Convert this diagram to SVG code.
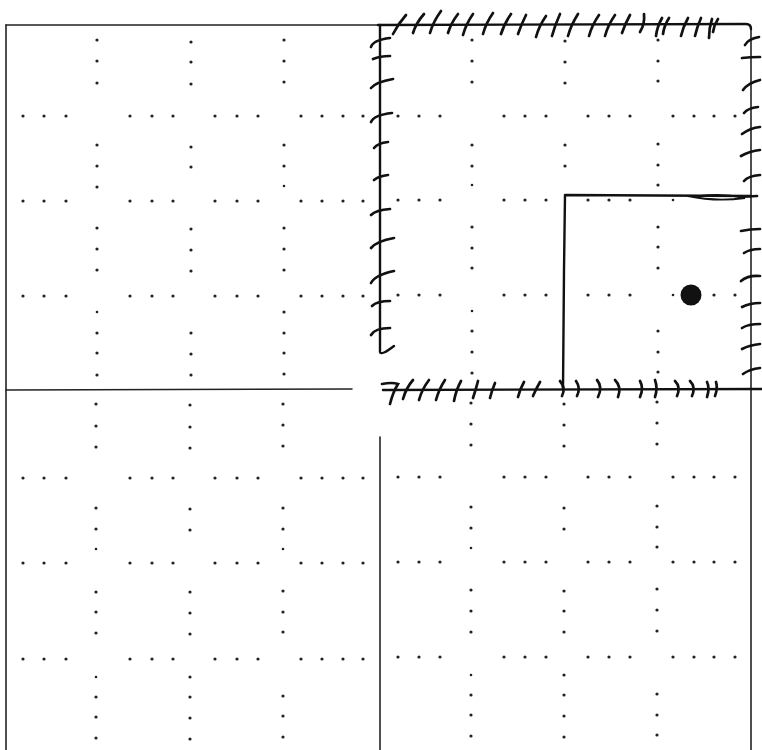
<svg xmlns="http://www.w3.org/2000/svg" width="762" height="750" viewBox="0 0 762 750">
<style>
.bg{fill:#fff}
.frame{stroke:#222;stroke-width:1.6;fill:none;stroke-linecap:round}
.wall{stroke:#111;stroke-width:2.4;fill:none;stroke-linecap:round;stroke-linejoin:round}
.tick{stroke:#111;stroke-width:2.7;fill:none;stroke-linecap:round}
.d{fill:#222}
</style>
<rect class="bg" x="0" y="0" width="762" height="750"/>
<g id="grid-dots">
<g id="row-dots">
<circle class="d" cx="23" cy="116" r="1.6"/><circle class="d" cx="44" cy="116" r="1.6"/><circle class="d" cx="66" cy="116" r="1.6"/><circle class="d" cx="130" cy="116" r="1.6"/><circle class="d" cx="152" cy="116" r="1.6"/><circle class="d" cx="173" cy="116" r="1.6"/><circle class="d" cx="215" cy="116" r="1.6"/><circle class="d" cx="237" cy="116" r="1.6"/><circle class="d" cx="258" cy="116" r="1.6"/><circle class="d" cx="301" cy="116" r="1.6"/><circle class="d" cx="322" cy="116" r="1.6"/><circle class="d" cx="343" cy="116" r="1.6"/><circle class="d" cx="363" cy="116" r="1.6"/>
<circle class="d" cx="398" cy="116" r="1.6"/><circle class="d" cx="419" cy="116" r="1.6"/><circle class="d" cx="440" cy="116" r="1.6"/><circle class="d" cx="504" cy="116" r="1.6"/><circle class="d" cx="525" cy="116" r="1.6"/><circle class="d" cx="546" cy="116" r="1.6"/><circle class="d" cx="588" cy="116" r="1.6"/><circle class="d" cx="609" cy="116" r="1.6"/><circle class="d" cx="630" cy="116" r="1.6"/><circle class="d" cx="673" cy="116" r="1.6"/><circle class="d" cx="694" cy="116" r="1.6"/><circle class="d" cx="714" cy="116" r="1.6"/><circle class="d" cx="735" cy="116" r="1.6"/>
<circle class="d" cx="23" cy="201" r="1.6"/><circle class="d" cx="44" cy="201" r="1.6"/><circle class="d" cx="66" cy="201" r="1.6"/><circle class="d" cx="130" cy="201" r="1.6"/><circle class="d" cx="152" cy="201" r="1.6"/><circle class="d" cx="173" cy="201" r="1.6"/><circle class="d" cx="215" cy="201" r="1.6"/><circle class="d" cx="237" cy="201" r="1.6"/><circle class="d" cx="258" cy="201" r="1.6"/><circle class="d" cx="301" cy="201" r="1.6"/><circle class="d" cx="322" cy="201" r="1.6"/><circle class="d" cx="343" cy="201" r="1.6"/><circle class="d" cx="363" cy="201" r="1.6"/>
<circle class="d" cx="398" cy="200" r="1.6"/><circle class="d" cx="419" cy="200" r="1.6"/><circle class="d" cx="440" cy="200" r="1.6"/><circle class="d" cx="504" cy="200" r="1.6"/><circle class="d" cx="525" cy="200" r="1.6"/><circle class="d" cx="546" cy="200" r="1.6"/><circle class="d" cx="588" cy="200" r="1.6"/><circle class="d" cx="609" cy="200" r="1.6"/><circle class="d" cx="630" cy="200" r="1.6"/><circle class="d" cx="673" cy="200" r="1.3"/>
<circle class="d" cx="23" cy="296" r="1.6"/><circle class="d" cx="44" cy="296" r="1.6"/><circle class="d" cx="66" cy="296" r="1.6"/><circle class="d" cx="130" cy="296" r="1.6"/><circle class="d" cx="152" cy="296" r="1.6"/><circle class="d" cx="173" cy="296" r="1.6"/><circle class="d" cx="215" cy="296" r="1.6"/><circle class="d" cx="237" cy="296" r="1.6"/><circle class="d" cx="258" cy="296" r="1.6"/><circle class="d" cx="301" cy="296" r="1.6"/><circle class="d" cx="322" cy="296" r="1.6"/><circle class="d" cx="343" cy="296" r="1.6"/><circle class="d" cx="363" cy="296" r="1.6"/>
<circle class="d" cx="398" cy="295" r="1.6"/><circle class="d" cx="419" cy="295" r="1.6"/><circle class="d" cx="440" cy="295" r="1.6"/><circle class="d" cx="504" cy="295" r="1.6"/><circle class="d" cx="525" cy="295" r="1.6"/><circle class="d" cx="546" cy="295" r="1.6"/><circle class="d" cx="588" cy="295" r="1.6"/><circle class="d" cx="609" cy="295" r="1.6"/><circle class="d" cx="630" cy="295" r="1.6"/><circle class="d" cx="673" cy="295" r="1.3"/><circle class="d" cx="714" cy="295" r="1.6"/><circle class="d" cx="735" cy="295" r="1.6"/>
<circle class="d" cx="23" cy="478" r="1.6"/><circle class="d" cx="44" cy="478" r="1.6"/><circle class="d" cx="66" cy="478" r="1.6"/><circle class="d" cx="130" cy="478" r="1.6"/><circle class="d" cx="152" cy="478" r="1.6"/><circle class="d" cx="173" cy="478" r="1.6"/><circle class="d" cx="215" cy="478" r="1.6"/><circle class="d" cx="237" cy="478" r="1.6"/><circle class="d" cx="258" cy="478" r="1.6"/><circle class="d" cx="301" cy="478" r="1.6"/><circle class="d" cx="322" cy="478" r="1.6"/><circle class="d" cx="343" cy="478" r="1.6"/><circle class="d" cx="363" cy="478" r="1.6"/>
<circle class="d" cx="398" cy="477" r="1.6"/><circle class="d" cx="419" cy="477" r="1.6"/><circle class="d" cx="440" cy="477" r="1.6"/><circle class="d" cx="504" cy="477" r="1.6"/><circle class="d" cx="525" cy="477" r="1.6"/><circle class="d" cx="546" cy="477" r="1.6"/><circle class="d" cx="588" cy="477" r="1.6"/><circle class="d" cx="609" cy="477" r="1.6"/><circle class="d" cx="630" cy="477" r="1.6"/><circle class="d" cx="673" cy="477" r="1.6"/><circle class="d" cx="694" cy="477" r="1.6"/><circle class="d" cx="714" cy="477" r="1.6"/><circle class="d" cx="735" cy="477" r="1.6"/>
<circle class="d" cx="23" cy="563" r="1.6"/><circle class="d" cx="44" cy="563" r="1.6"/><circle class="d" cx="66" cy="563" r="1.6"/><circle class="d" cx="130" cy="563" r="1.6"/><circle class="d" cx="152" cy="563" r="1.6"/><circle class="d" cx="173" cy="563" r="1.6"/><circle class="d" cx="215" cy="563" r="1.6"/><circle class="d" cx="237" cy="563" r="1.6"/><circle class="d" cx="258" cy="563" r="1.6"/><circle class="d" cx="301" cy="563" r="1.6"/><circle class="d" cx="322" cy="563" r="1.6"/><circle class="d" cx="343" cy="563" r="1.6"/><circle class="d" cx="363" cy="563" r="1.6"/>
<circle class="d" cx="398" cy="562" r="1.6"/><circle class="d" cx="419" cy="562" r="1.6"/><circle class="d" cx="440" cy="562" r="1.6"/><circle class="d" cx="504" cy="562" r="1.6"/><circle class="d" cx="525" cy="562" r="1.6"/><circle class="d" cx="546" cy="562" r="1.6"/><circle class="d" cx="588" cy="562" r="1.6"/><circle class="d" cx="609" cy="562" r="1.6"/><circle class="d" cx="630" cy="562" r="1.6"/><circle class="d" cx="673" cy="562" r="1.6"/><circle class="d" cx="694" cy="562" r="1.6"/><circle class="d" cx="714" cy="562" r="1.6"/><circle class="d" cx="735" cy="562" r="1.6"/>
<circle class="d" cx="23" cy="659" r="1.6"/><circle class="d" cx="44" cy="659" r="1.6"/><circle class="d" cx="66" cy="659" r="1.6"/><circle class="d" cx="130" cy="659" r="1.6"/><circle class="d" cx="152" cy="659" r="1.6"/><circle class="d" cx="173" cy="659" r="1.6"/><circle class="d" cx="215" cy="659" r="1.6"/><circle class="d" cx="237" cy="659" r="1.6"/><circle class="d" cx="258" cy="659" r="1.6"/><circle class="d" cx="301" cy="659" r="1.6"/><circle class="d" cx="322" cy="659" r="1.6"/><circle class="d" cx="343" cy="659" r="1.6"/><circle class="d" cx="363" cy="659" r="1.6"/>
<circle class="d" cx="398" cy="657" r="1.6"/><circle class="d" cx="419" cy="657" r="1.6"/><circle class="d" cx="440" cy="657" r="1.6"/><circle class="d" cx="504" cy="657" r="1.6"/><circle class="d" cx="525" cy="657" r="1.6"/><circle class="d" cx="546" cy="657" r="1.6"/><circle class="d" cx="588" cy="657" r="1.6"/><circle class="d" cx="609" cy="657" r="1.6"/><circle class="d" cx="630" cy="657" r="1.6"/><circle class="d" cx="673" cy="657" r="1.6"/><circle class="d" cx="694" cy="657" r="1.6"/><circle class="d" cx="714" cy="657" r="1.6"/><circle class="d" cx="735" cy="657" r="1.6"/>
</g>
<g id="col-dots">
<circle class="d" cx="97" cy="40" r="1.6"/><circle class="d" cx="97" cy="61" r="1.6"/><circle class="d" cx="97" cy="83" r="1.6"/><circle class="d" cx="97" cy="145" r="1.6"/><circle class="d" cx="97" cy="166" r="1.6"/><circle class="d" cx="97" cy="187" r="1.6"/><circle class="d" cx="97" cy="228" r="1.6"/><circle class="d" cx="97" cy="249" r="1.6"/><circle class="d" cx="97" cy="270" r="1.6"/><circle class="d" cx="97" cy="312" r="1.3"/><circle class="d" cx="97" cy="333" r="1.6"/><circle class="d" cx="97" cy="353" r="1.6"/><circle class="d" cx="97" cy="375" r="1.6"/><circle class="d" cx="96" cy="404" r="1.6"/><circle class="d" cx="96" cy="426" r="1.6"/><circle class="d" cx="96" cy="447" r="1.6"/><circle class="d" cx="96" cy="508" r="1.6"/><circle class="d" cx="96" cy="529" r="1.6"/><circle class="d" cx="96" cy="549" r="1.3"/><circle class="d" cx="96" cy="592" r="1.6"/><circle class="d" cx="96" cy="612" r="1.6"/><circle class="d" cx="96" cy="633" r="1.6"/><circle class="d" cx="96" cy="677" r="1.3"/><circle class="d" cx="96" cy="697" r="1.6"/><circle class="d" cx="96" cy="717" r="1.6"/><circle class="d" cx="96" cy="738" r="1.6"/>
<circle class="d" cx="191" cy="42" r="1.6"/><circle class="d" cx="191" cy="62" r="1.6"/><circle class="d" cx="191" cy="84" r="1.6"/><circle class="d" cx="191" cy="147" r="1.6"/><circle class="d" cx="191" cy="167" r="1.6"/><circle class="d" cx="191" cy="229" r="1.6"/><circle class="d" cx="191" cy="250" r="1.6"/><circle class="d" cx="191" cy="271" r="1.6"/><circle class="d" cx="191" cy="333" r="1.6"/><circle class="d" cx="191" cy="354" r="1.6"/><circle class="d" cx="191" cy="375" r="1.6"/><circle class="d" cx="190" cy="405" r="1.6"/><circle class="d" cx="190" cy="427" r="1.6"/><circle class="d" cx="190" cy="448" r="1.6"/><circle class="d" cx="190" cy="509" r="1.6"/><circle class="d" cx="190" cy="530" r="1.6"/><circle class="d" cx="190" cy="592" r="1.6"/><circle class="d" cx="190" cy="613" r="1.6"/><circle class="d" cx="190" cy="634" r="1.6"/><circle class="d" cx="190" cy="677" r="1.6"/><circle class="d" cx="190" cy="697" r="1.6"/><circle class="d" cx="190" cy="718" r="1.6"/><circle class="d" cx="190" cy="739" r="1.6"/>
<circle class="d" cx="284" cy="40" r="1.6"/><circle class="d" cx="284" cy="61" r="1.6"/><circle class="d" cx="284" cy="82" r="1.6"/><circle class="d" cx="284" cy="145" r="1.6"/><circle class="d" cx="284" cy="166" r="1.6"/><circle class="d" cx="284" cy="186" r="1.3"/><circle class="d" cx="284" cy="228" r="1.6"/><circle class="d" cx="284" cy="249" r="1.6"/><circle class="d" cx="284" cy="270" r="1.6"/><circle class="d" cx="284" cy="312" r="1.6"/><circle class="d" cx="284" cy="333" r="1.6"/><circle class="d" cx="284" cy="353" r="1.6"/><circle class="d" cx="284" cy="374" r="1.6"/><circle class="d" cx="283" cy="404" r="1.6"/><circle class="d" cx="283" cy="425" r="1.6"/><circle class="d" cx="283" cy="446" r="1.6"/><circle class="d" cx="283" cy="508" r="1.6"/><circle class="d" cx="283" cy="529" r="1.6"/><circle class="d" cx="283" cy="549" r="1.3"/><circle class="d" cx="283" cy="591" r="1.6"/><circle class="d" cx="283" cy="612" r="1.6"/><circle class="d" cx="283" cy="632" r="1.6"/><circle class="d" cx="283" cy="696" r="1.6"/><circle class="d" cx="283" cy="716" r="1.6"/><circle class="d" cx="283" cy="737" r="1.6"/>
<circle class="d" cx="472" cy="40" r="1.6"/><circle class="d" cx="472" cy="61" r="1.6"/><circle class="d" cx="472" cy="82" r="1.6"/><circle class="d" cx="472" cy="145" r="1.6"/><circle class="d" cx="472" cy="166" r="1.6"/><circle class="d" cx="472" cy="185" r="1.3"/><circle class="d" cx="472" cy="227" r="1.6"/><circle class="d" cx="472" cy="248" r="1.6"/><circle class="d" cx="472" cy="268" r="1.6"/><circle class="d" cx="472" cy="311" r="1.3"/><circle class="d" cx="472" cy="331" r="1.6"/><circle class="d" cx="472" cy="352" r="1.6"/><circle class="d" cx="472" cy="373" r="1.6"/><circle class="d" cx="471" cy="403" r="1.6"/><circle class="d" cx="471" cy="424" r="1.6"/><circle class="d" cx="471" cy="445" r="1.6"/><circle class="d" cx="471" cy="507" r="1.6"/><circle class="d" cx="471" cy="528" r="1.6"/><circle class="d" cx="471" cy="548" r="1.3"/><circle class="d" cx="471" cy="590" r="1.6"/><circle class="d" cx="471" cy="611" r="1.6"/><circle class="d" cx="471" cy="632" r="1.6"/><circle class="d" cx="471" cy="675" r="1.3"/><circle class="d" cx="471" cy="695" r="1.6"/><circle class="d" cx="471" cy="715" r="1.6"/><circle class="d" cx="471" cy="736" r="1.6"/>
<circle class="d" cx="565" cy="41" r="1.6"/><circle class="d" cx="565" cy="62" r="1.6"/><circle class="d" cx="565" cy="83" r="1.6"/><circle class="d" cx="565" cy="145" r="1.6"/><circle class="d" cx="565" cy="166" r="1.6"/><circle class="d" cx="564" cy="404" r="1.6"/><circle class="d" cx="564" cy="425" r="1.6"/><circle class="d" cx="564" cy="446" r="1.6"/><circle class="d" cx="564" cy="508" r="1.6"/><circle class="d" cx="564" cy="529" r="1.6"/><circle class="d" cx="564" cy="591" r="1.6"/><circle class="d" cx="564" cy="611" r="1.6"/><circle class="d" cx="564" cy="632" r="1.6"/><circle class="d" cx="564" cy="675" r="1.6"/><circle class="d" cx="564" cy="695" r="1.6"/><circle class="d" cx="564" cy="716" r="1.6"/><circle class="d" cx="564" cy="737" r="1.6"/>
<circle class="d" cx="658" cy="40" r="1.6"/><circle class="d" cx="658" cy="61" r="1.6"/><circle class="d" cx="658" cy="81" r="1.6"/><circle class="d" cx="658" cy="144" r="1.6"/><circle class="d" cx="658" cy="165" r="1.6"/><circle class="d" cx="658" cy="185" r="1.6"/><circle class="d" cx="658" cy="227" r="1.6"/><circle class="d" cx="658" cy="247" r="1.6"/><circle class="d" cx="658" cy="268" r="1.6"/><circle class="d" cx="658" cy="331" r="1.6"/><circle class="d" cx="658" cy="352" r="1.6"/><circle class="d" cx="658" cy="372" r="1.6"/><circle class="d" cx="657" cy="402" r="1.6"/><circle class="d" cx="657" cy="423" r="1.6"/><circle class="d" cx="657" cy="444" r="1.6"/><circle class="d" cx="657" cy="506" r="1.6"/><circle class="d" cx="657" cy="527" r="1.6"/><circle class="d" cx="657" cy="547" r="1.6"/><circle class="d" cx="657" cy="589" r="1.6"/><circle class="d" cx="657" cy="610" r="1.6"/><circle class="d" cx="657" cy="631" r="1.6"/><circle class="d" cx="657" cy="694" r="1.6"/><circle class="d" cx="657" cy="715" r="1.6"/><circle class="d" cx="657" cy="735" r="1.6"/>
</g>
</g>
<g id="frame">
<path class="frame" d="M6 25 L380 25"/>
<path class="frame" d="M6 25 L6 750"/>
<path class="frame" d="M6 390 L352 389"/>
<path class="frame" d="M380 437 L380 750"/>
<path class="frame" d="M751 28 L751 750"/>
</g>
<g id="hatched-room">
<path class="wall" d="M378 25 L746 24 Q751 24 751 29"/>
<path class="wall" d="M380 25 L380 352 Q381 356 394 346"/>
<path class="wall" d="M383 390 L762 389"/>
<path class="wall" d="M563 390 L564 270 L565 195 L751 196"/>
<path d="M688 196 Q716 202 745 198 Q722 193 700 196" fill="none" stroke="#111" stroke-width="1.8" stroke-linecap="round"/>
<path class="tick" d="M739 197 L757 196"/>
<circle cx="691" cy="295" r="10.5" fill="#111"/>
</g>
<g id="hatch-top">
<path class="tick" d="M393 34 Q398 24 406 15"/>
<path class="tick" d="M413 33 Q416 23 424 14"/>
<path class="tick" d="M430 33 Q433 22 441 11"/>
<path class="tick" d="M448 33 Q451 23 458 14"/>
<path class="tick" d="M463 35 Q466 24 473 14"/>
<path class="tick" d="M483 34 Q486 23 493 13"/>
<path class="tick" d="M501 34 Q504 24 511 14"/>
<path class="tick" d="M518 34 Q521 25 526 15"/>
<path class="tick" d="M536 37 Q539 26 546 16"/>
<path class="tick" d="M552 36 Q555 25 560 14"/>
<path class="tick" d="M568 36 Q571 25 578 14"/>
<path class="tick" d="M589 36 Q592 25 599 15"/>
<path class="tick" d="M605 36 Q608 25 615 15"/>
<path class="tick" d="M622 33 Q625 24 630 15"/>
<path class="tick" d="M640 32 Q645 24 644 14"/>
<path class="tick" d="M656 36 Q657 27 662 18"/>
<path class="tick" d="M663 34 Q664 26 669 18"/>
<path class="tick" d="M681 36 Q683 27 688 18"/>
<path class="tick" d="M695 36 Q697 27 701 18"/>
<path class="tick" d="M709 38 Q709 28 712 19"/>
<path class="tick" d="M713 32 Q714 25 718 19"/>
</g>
<g id="hatch-left">
<path class="tick" d="M371 47 Q373 40 390 38"/>
<path class="tick" d="M373 59 Q380 56 390 56"/>
<path class="tick" d="M371 88 Q376 82 393 79"/>
<path class="tick" d="M371 122 Q374 115 392 113"/>
<path class="tick" d="M374 148 Q378 143 388 142"/>
<path class="tick" d="M374 180 Q379 176 388 175"/>
<path class="tick" d="M371 215 Q376 210 390 209"/>
<path class="tick" d="M371 248 Q377 241 394 238"/>
<path class="tick" d="M371 283 Q375 275 394 271"/>
<path class="tick" d="M372 306 Q377 301 390 301"/>
<path class="tick" d="M371 335 Q375 328 390 328"/>
</g>
<g id="hatch-right">
<path class="tick" d="M745 45 Q748 39 759 37"/>
<path class="tick" d="M742 58 Q750 57 760 57"/>
<path class="tick" d="M743 90 Q748 83 760 80"/>
<path class="tick" d="M744 113 Q748 108 758 107"/>
<path class="tick" d="M742 134 Q750 128 760 127"/>
<path class="tick" d="M741 156 Q750 151 760 150"/>
<path class="tick" d="M744 181 Q748 176 760 175"/>
<path class="tick" d="M741 231 Q750 229 760 229"/>
<path class="tick" d="M744 253 Q750 249 760 249"/>
<path class="tick" d="M741 281 Q748 275 760 276"/>
<path class="tick" d="M742 307 Q750 303 760 303"/>
<path class="tick" d="M742 328 Q748 324 760 324"/>
<path class="tick" d="M742 349 Q750 345 760 344"/>
<path class="tick" d="M743 374 Q750 369 760 368"/>
</g>
<g id="hatch-bottom">
<path class="tick" d="M382 384 Q392 382 398 384 Q393 392 390 404"/>
<path class="tick" d="M403 399 Q406 388 413 380"/>
<path class="tick" d="M419 400 Q422 389 429 380"/>
<path class="tick" d="M436 400 Q439 389 445 380"/>
<path class="tick" d="M454 401 Q456 390 461 381"/>
<path class="tick" d="M473 398 Q476 389 478 381"/>
<path class="tick" d="M490 398 Q492 390 495 383"/>
<path class="tick" d="M518 397 Q520 389 524 382"/>
<path class="tick" d="M533 396 Q536 389 540 382"/>
<path class="tick" d="M560 381 Q566 388 562 396"/>
<path class="tick" d="M576 381 Q581 388 577 396"/>
<path class="tick" d="M597 380 Q603 387 598 397"/>
<path class="tick" d="M615 380 Q622 387 618 397"/>
<path class="tick" d="M640 381 Q644 388 640 397"/>
<path class="tick" d="M655 380 Q658 388 655 397"/>
<path class="tick" d="M675 381 Q681 387 677 396"/>
<path class="tick" d="M690 381 Q696 387 692 396"/>
<path class="tick" d="M707 382 Q710 388 707 397"/>
<path class="tick" d="M716 382 Q718 388 715 396"/>
</g>
</svg>
